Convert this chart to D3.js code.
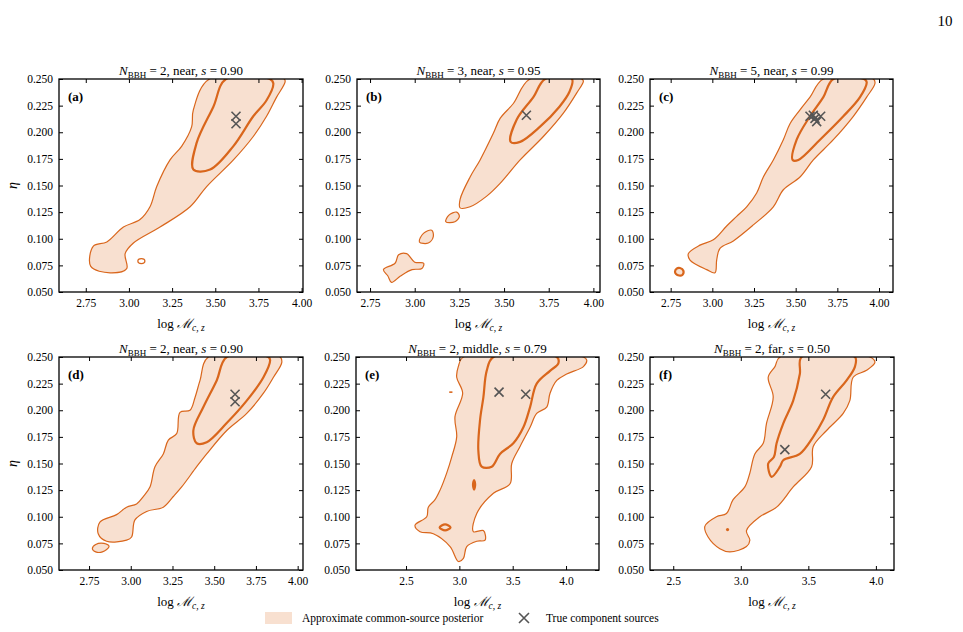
<!DOCTYPE html>
<html><head><meta charset="utf-8">
<script src="https://cdn.jsdelivr.net/npm/d3@7"></script>
<style>body{margin:0;background:#fff}svg{font-family:"Liberation Serif","DejaVu Serif",serif}</style>
</head><body><svg id="c" width="963" height="632"></svg>
<script>
const yTicks=[0.05,0.075,0.1,0.125,0.15,0.175,0.2,0.225,0.25];
const xTicksNear=[2.75,3.0,3.25,3.5,3.75,4.0];
const xTicksWide=[2.5,3.0,3.5,4.0];
const labels=["(a)","(b)","(c)","(d)","(e)","(f)"];
const nBBH=[2,3,5,2,2,2];
const dist=["near","near","near","near","middle","far"];
const sVal=["0.90","0.95","0.99","0.90","0.79","0.50"];

const outerA=[[3.466,0.25],[3.373,0.221],[3.363,0.205],[3.306,0.187],[3.238,0.174],[3.161,0.149],[3.122,0.130],[3.064,0.118],[2.968,0.111],[2.872,0.097],[2.794,0.093],[2.779,0.074],[2.891,0.068],[2.987,0.072],[2.978,0.086],[3.026,0.096],[3.180,0.111],[3.354,0.130],[3.450,0.149],[3.605,0.174],[3.72,0.196],[3.797,0.215],[3.855,0.233],[3.904,0.247],[3.90,0.25]];
const innerA=[[3.562,0.25],[3.489,0.224],[3.392,0.190],[3.373,0.165],[3.47,0.165],[3.605,0.187],[3.72,0.215],[3.797,0.230],[3.836,0.246],[3.816,0.25]];
const outerB=[[3.645,0.25],[3.552,0.227],[3.478,0.213],[3.44,0.199],[3.366,0.174],[3.31,0.158],[3.254,0.137],[3.254,0.129],[3.31,0.130],[3.403,0.140],[3.478,0.152],[3.59,0.174],[3.72,0.196],[3.832,0.218],[3.907,0.237],[3.944,0.248],[3.935,0.25]];
const innerB=[[3.73,0.25],[3.664,0.233],[3.571,0.212],[3.537,0.191],[3.59,0.191],[3.70,0.205],[3.81,0.224],[3.866,0.238],[3.88,0.25]];
const blobB1=[[3.174,0.116],[3.19,0.122],[3.235,0.125],[3.25,0.121],[3.225,0.116]];
const blobB2=[[3.026,0.097],[3.049,0.105],[3.095,0.108],[3.104,0.102],[3.076,0.096]];
const blobB3=[[2.825,0.071],[2.89,0.077],[2.91,0.085],[2.955,0.086],[3.0,0.078],[3.05,0.077],[3.04,0.072],[2.985,0.071],[2.92,0.065],[2.87,0.059],[2.85,0.065]];
const outerC=[[3.666,0.25],[3.586,0.233],[3.526,0.221],[3.466,0.208],[3.426,0.193],[3.366,0.174],[3.306,0.158],[3.266,0.143],[3.206,0.130],[3.146,0.121],[3.086,0.112],[3.006,0.099],[2.926,0.094],[2.856,0.086],[2.866,0.080],[2.966,0.071],[3.016,0.068],[3.026,0.080],[3.046,0.091],[3.126,0.098],[3.246,0.113],[3.366,0.130],[3.426,0.146],[3.526,0.158],[3.606,0.174],[3.726,0.193],[3.846,0.215],[3.926,0.233],[3.976,0.246],[3.966,0.25]];
const innerC=[[3.726,0.25],[3.666,0.233],[3.586,0.215],[3.506,0.193],[3.482,0.174],[3.516,0.174],[3.646,0.193],[3.786,0.215],[3.886,0.233],[3.926,0.247],[3.91,0.25]];
const blobC=[[2.776,0.069],[2.786,0.072],[2.806,0.0725],[2.826,0.070],[2.82,0.066],[2.80,0.0655],[2.782,0.067]];
const outerD=[[3.465,0.25],[3.415,0.228],[3.385,0.212],[3.355,0.200],[3.295,0.198],[3.275,0.178],[3.225,0.172],[3.195,0.159],[3.145,0.147],[3.115,0.128],[3.075,0.119],[3.035,0.112],[2.975,0.109],[2.915,0.102],[2.815,0.095],[2.805,0.084],[2.855,0.077],[2.975,0.078],[3.005,0.081],[3.025,0.097],[3.095,0.105],[3.195,0.109],[3.255,0.119],[3.305,0.128],[3.395,0.147],[3.455,0.159],[3.575,0.181],[3.695,0.197],[3.795,0.216],[3.855,0.231],[3.905,0.245],[3.895,0.25]];
const innerD=[[3.575,0.25],[3.515,0.228],[3.435,0.203],[3.375,0.181],[3.395,0.169],[3.455,0.170],[3.575,0.188],[3.695,0.209],[3.795,0.231],[3.835,0.247],[3.825,0.25]];
const blobD=[[2.77,0.070],[2.79,0.074],[2.84,0.075],[2.87,0.072],[2.83,0.067],[2.79,0.067]];
const outerE=[[3.038,0.25],[2.99,0.241],[2.975,0.231],[3.031,0.216],[2.959,0.194],[2.975,0.175],[2.928,0.156],[2.881,0.141],[2.819,0.125],[2.772,0.116],[2.709,0.109],[2.694,0.100],[2.584,0.092],[2.631,0.086],[2.756,0.084],[2.913,0.072],[2.991,0.058],[3.038,0.061],[3.069,0.072],[3.163,0.077],[3.241,0.078],[3.225,0.087],[3.131,0.086],[3.163,0.103],[3.319,0.122],[3.475,0.131],[3.491,0.150],[3.569,0.166],[3.663,0.184],[3.725,0.197],[3.819,0.203],[3.850,0.216],[3.913,0.228],[4.006,0.234],[4.163,0.241],[4.194,0.247],[4.163,0.25]];
const innerE=[[3.319,0.25],[3.256,0.237],[3.225,0.212],[3.194,0.191],[3.178,0.162],[3.209,0.147],[3.303,0.147],[3.381,0.159],[3.506,0.169],[3.60,0.184],[3.663,0.203],[3.725,0.225],[3.85,0.237],[3.928,0.244],[3.913,0.25]];
const ringE1=[[3.128,0.130],[3.138,0.1345],[3.148,0.130],[3.138,0.1255]];
const ringE2=[[2.815,0.090],[2.866,0.0928],[2.917,0.090],[2.866,0.0872]];
const outerF=[[3.29,0.25],[3.253,0.241],[3.203,0.231],[3.24,0.2125],[3.19,0.1875],[3.166,0.169],[3.104,0.159],[3.067,0.141],[3.03,0.128],[2.943,0.116],[2.894,0.103],[2.820,0.100],[2.734,0.091],[2.758,0.081],[2.845,0.070],[2.919,0.067],[3.042,0.072],[3.067,0.078],[3.042,0.087],[3.141,0.100],[3.265,0.109],[3.388,0.128],[3.524,0.147],[3.536,0.166],[3.635,0.181],[3.758,0.197],[3.807,0.209],[3.832,0.231],[3.931,0.2375],[3.993,0.245],[3.956,0.25]];
const innerF=[[3.45,0.25],[3.437,0.234],[3.388,0.209],[3.314,0.1875],[3.265,0.169],[3.245,0.156],[3.203,0.150],[3.228,0.1375],[3.29,0.147],[3.314,0.153],[3.437,0.159],[3.536,0.175],[3.61,0.191],[3.684,0.2125],[3.783,0.228],[3.845,0.241],[3.845,0.25]];

const crossA=[[3.62,0.215],[3.62,0.208]];
const crossB=[[3.625,0.216]];
const crossC=[[3.606,0.216],[3.65,0.215],[3.626,0.210],[3.616,0.213],[3.586,0.215]];
const crossD=[[3.625,0.215],[3.625,0.208]];
const crossE=[[3.372,0.217],[3.622,0.215]];
const crossF=[[3.628,0.215],[3.326,0.163]];

const domains=[[2.595,4.008],[2.677,4.037],[2.626,4.084],[2.57,4.032],[2.031,4.309],[2.328,4.134]];
const rects=[[59,79,303,292],[357,79,600,292],[650,79,893,292],[59,357,303,570],[356,357,599,570],[650,357,894,570]];
const fills=[[outerA],[outerB,blobB1,blobB2,blobB3],[outerC,blobC],[outerD,blobD],[outerE],[outerF]];
const thin=[[outerA],[outerB,blobB1,blobB2,blobB3],[outerC],[outerD,blobD],[outerE],[outerF]];
const thick=[[innerA],[innerB],[innerC,blobC],[innerD],[innerE,ringE1,ringE2],[innerF]];
const crosses=[crossA,crossB,crossC,crossD,crossE,crossF];

const FILL="#f8e0d0",LINE="#d9661c",XC="#555";
const svg=d3.select("#c");
svg.append("text").attr("x",945).attr("y",26).attr("text-anchor","middle").attr("font-size",15).text("10");

rects.forEach((r,i)=>{
  const [x0,y0,x1,y1]=r;
  const x=d3.scaleLinear().domain(domains[i]).range([x0,x1]);
  const y=d3.scaleLinear().domain([0.05,0.25]).range([y1,y0]);
  const g=svg.append("g");
  const cid="clip"+i;
  g.append("clipPath").attr("id",cid).append("rect").attr("x",x0).attr("y",y0).attr("width",x1-x0).attr("height",y1-y0);
  const pg=g.append("g").attr("clip-path",`url(#${cid})`);
  const line=d3.line().x(d=>x(d[0])).y(d=>y(d[1])).curve(d3.curveCatmullRomClosed.alpha(0.5));
  fills[i].forEach(p=>pg.append("path").attr("d",line(p)).attr("fill",FILL).attr("stroke","none"));
  thin[i].forEach(p=>pg.append("path").attr("d",line(p)).attr("fill","none").attr("stroke",LINE).attr("stroke-width",1.2));
  thick[i].forEach(p=>pg.append("path").attr("d",line(p)).attr("fill","none").attr("stroke",LINE).attr("stroke-width",2.2));
  if(i===4) pg.append("line").attr("x1",x(2.905)).attr("x2",x(2.935)).attr("y1",y(0.217)).attr("y2",y(0.217)).attr("stroke",LINE).attr("stroke-width",1.6);
  if(i===5) pg.append("circle").attr("cx",x(2.902)).attr("cy",y(0.088)).attr("r",1.6).attr("fill",LINE);
  if(i===0) pg.append("ellipse").attr("cx",x(3.072)).attr("cy",y(0.079)).attr("rx",3.5).attr("ry",2.5).attr("fill","none").attr("stroke",LINE).attr("stroke-width",1.3);
  crosses[i].forEach(c=>{
    const cx=x(c[0]),cy=y(c[1]),s=4.5;
    pg.append("path").attr("d",`M${cx-s},${cy-s}L${cx+s},${cy+s}M${cx-s},${cy+s}L${cx+s},${cy-s}`).attr("stroke",XC).attr("stroke-width",1.6).attr("fill","none");
  });
  const xt=(i===4||i===5)?xTicksWide:xTicksNear;
  const fmt=(i===4||i===5)?d3.format(".1f"):d3.format(".2f");
  g.append("g").attr("transform",`translate(0,${y1})`).call(d3.axisBottom(x).tickValues(xt).tickFormat(fmt).tickSizeInner(-4).tickSizeOuter(0).tickPadding(7));
  g.append("g").attr("transform",`translate(0,${y0})`).call(d3.axisTop(x).tickValues(xt).tickFormat("").tickSizeInner(-4).tickSizeOuter(0));
  g.append("g").attr("transform",`translate(${x0},0)`).call(d3.axisLeft(y).tickValues(yTicks).tickFormat(d3.format(".3f")).tickSizeInner(-4).tickSizeOuter(0).tickPadding(6));
  g.append("g").attr("transform",`translate(${x1},0)`).call(d3.axisRight(y).tickValues(yTicks).tickFormat("").tickSizeInner(-4).tickSizeOuter(0));
  g.selectAll(".domain").remove();
  g.selectAll(".tick line").attr("stroke","#000").attr("stroke-width",1);
  g.selectAll(".tick text").attr("font-family","Liberation Serif").attr("font-size",11.5).attr("fill","#000");
  g.append("rect").attr("x",x0).attr("y",y0).attr("width",x1-x0).attr("height",y1-y0).attr("fill","none").attr("stroke","#000").attr("stroke-width",1.3);
  g.append("text").attr("x",x0+9).attr("y",y0+22).attr("font-weight","bold").attr("font-size",13).text(labels[i]);
  const t=g.append("text").attr("x",(x0+x1)/2).attr("y",y0-4).attr("text-anchor","middle").attr("font-size",13);
  t.append("tspan").attr("font-style","italic").text("N");
  t.append("tspan").attr("font-size",9).attr("dy",3).text("BBH");
  t.append("tspan").attr("dy",-3).text(` = ${nBBH[i]}, ${dist[i]}, `);
  t.append("tspan").attr("font-style","italic").text("s");
  t.append("tspan").text(` = ${sVal[i]}`);
  const xl=g.append("text").attr("x",(x0+x1)/2).attr("y",y1+36).attr("text-anchor","middle").attr("font-size",13);
  xl.append("tspan").text("log ");
  xl.append("tspan").attr("font-family","DejaVu Serif").attr("font-style","italic").text("ℳ");
  xl.append("tspan").attr("font-style","italic").attr("font-size",9.5).attr("dy",3).text("c, z");
  if(i===0||i===3) g.append("text").attr("transform",`translate(${x0-42},${(y0+y1)/2}) rotate(-90)`).attr("text-anchor","middle").attr("font-style","italic").attr("font-size",14).text("η");
});
const lg=svg.append("g");
lg.append("rect").attr("x",265).attr("y",612).attr("width",27).attr("height",12).attr("fill",FILL);
lg.append("text").attr("x",302).attr("y",622).attr("font-size",11.5).text("Approximate common-source posterior");
const lx=524,ly=618;
lg.append("path").attr("d",`M${lx-5},${ly-5}L${lx+5},${ly+5}M${lx-5},${ly+5}L${lx+5},${ly-5}`).attr("stroke",XC).attr("stroke-width",1.6);
lg.append("text").attr("x",546).attr("y",622).attr("font-size",11.5).text("True component sources");
</script></body></html>
